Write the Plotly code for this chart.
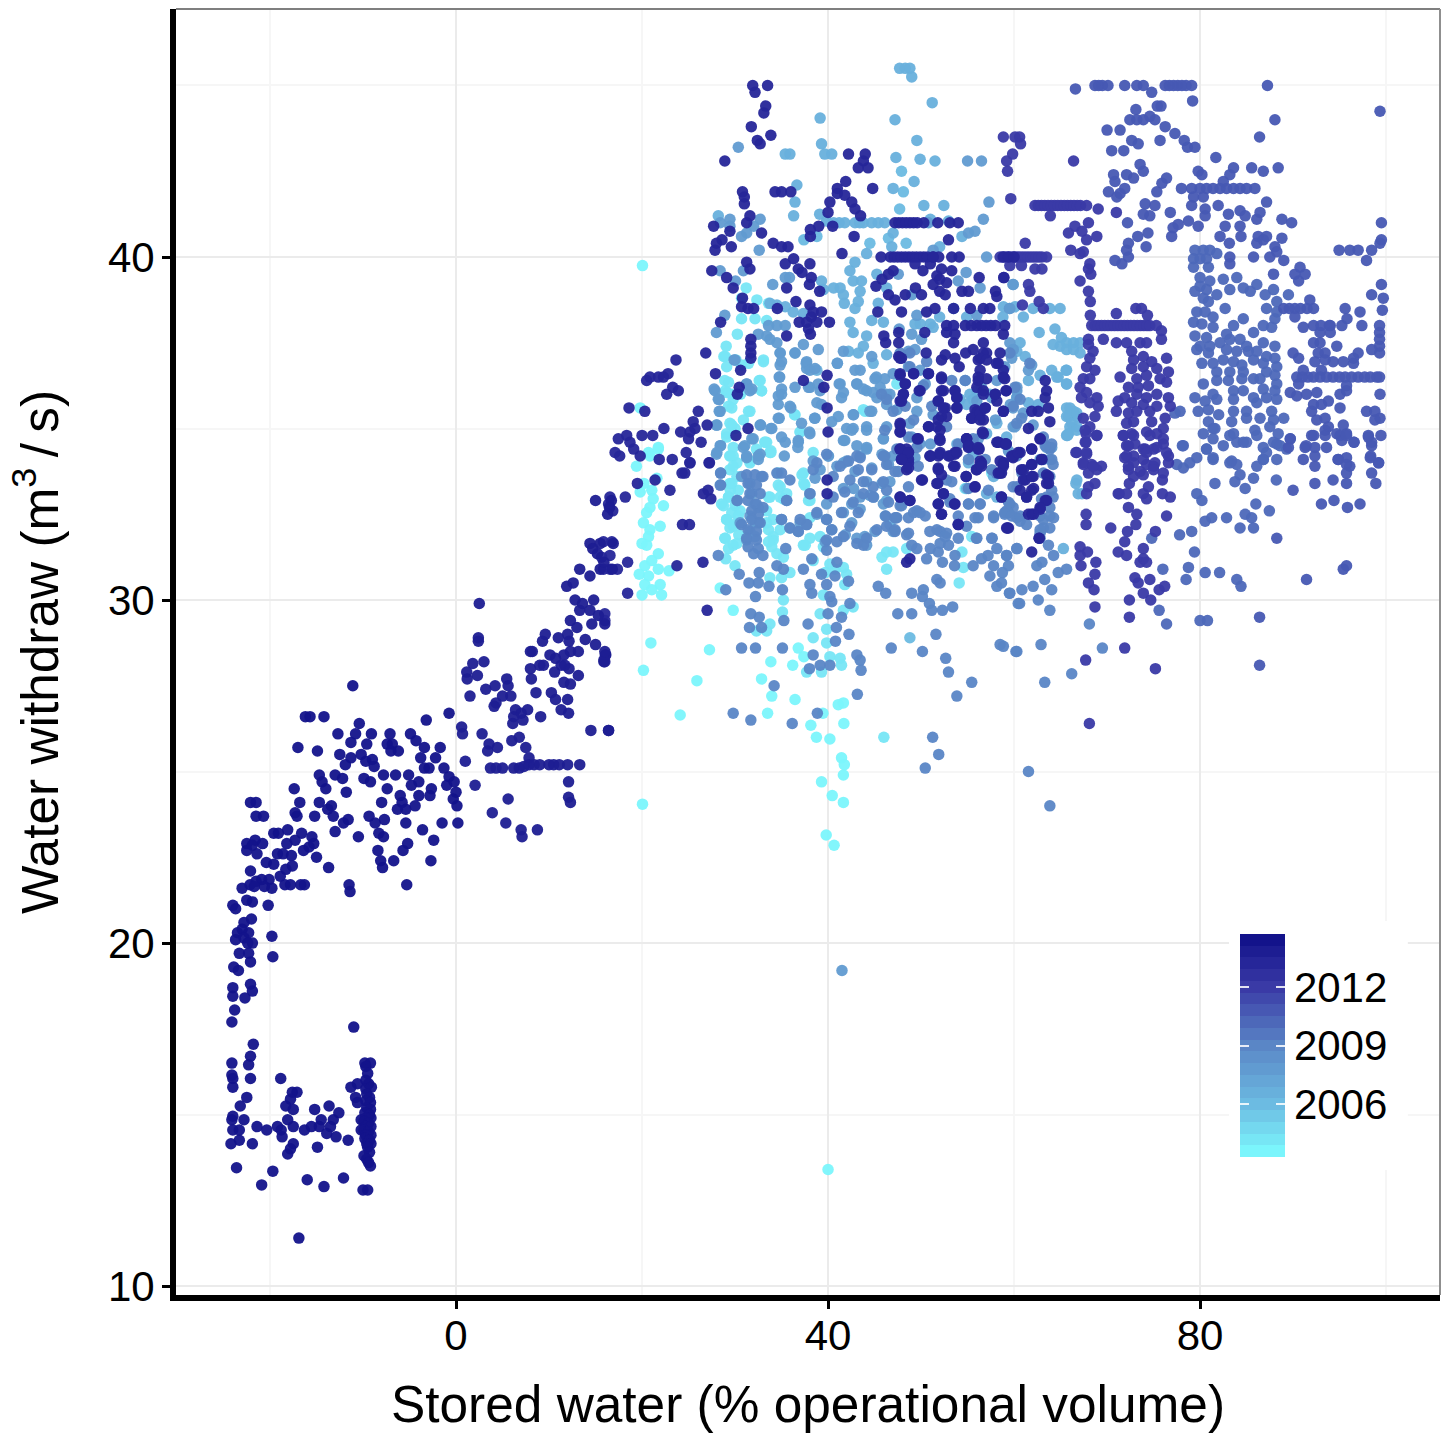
import plotly.graph_objects as go

# ---- data: (stored water %, withdrawal m3/s) by period ----
year_ticks = [2006, 2009, 2012]
x_ticks = [0, 40, 80]
y_ticks = [10, 20, 30, 40]

pts_2003 = [(20.05,39.75),(40,13.4),(20.05,24.05),(19.8,33.15),(21.05,33.2),(21.2,32.95),(20.85,32.7),(22.3,32.75),(20.5,32.55),(20.15,32.25),(21.95,32.15),(20.85,32.05),(20.7,31.85),(20,31.65),(20.5,31.6),(21.75,31.35),(20.3,31),(21.05,31.15),(21.75,30.9),(22.9,30.85),(19.7,30.75),(20.7,30.7),(20.3,30.45),(21.95,30.45),(21.05,30.3),(20,30.15),(22.1,30.15),(21.6,33.55),(20.7,34.3),(21.75,34.45),(20.95,28.75),(20.15,27.95),(27.25,28.55),(25.9,27.65),(24.1,26.65),(29.8,29.7),(28.4,30.35),(36.8,28.6),(37.4,28.35),(36.2,28.1),(33.85,28.2),(32.85,27.7),(33.95,27.2),(36.45,27.1),(33.5,26.7),(38.15,26.35),(38.75,26),(40.2,25.95),(41.7,26.4),(41.1,26.95),(41.65,27),(39.45,26.7),(41.45,25.4),(41.75,25.2),(41.65,24.9),(39.3,24.7),(40.45,24.3),(41.65,24.1),(39.8,23.15),(40.65,22.85),(19.8,35.6),(21.75,34.4),(20.85,34.2),(19.4,33.9),(20.2,33.4)]
pts_2004 = [(46,26),(54.1,30.5),(46.3,30.9),(29.45,34.2),(30.2,34),(29.45,33.8),(30.2,33.6),(29.65,33.4),(30.35,33.2),(29.3,33),(28.75,32.75),(30,32.75),(29.65,32.55),(30.55,32.6),(29.1,32.35),(30.2,32.25),(29.45,32.1),(28.9,31.8),(29.8,31.6),(29.3,31.5),(33.75,33),(33.4,32.6),(34.1,32.35),(33.6,32.05),(34.1,31.75),(33.95,31.55),(34.85,33.3),(34.65,33.7),(35.2,32.95),(34.5,31.35),(35.2,31.25),(35.9,30.8),(35,30.65),(33.75,30.65),(35.2,30),(35.1,29.65),(33.75,29.3),(33.4,29.1),(32.3,29.1),(39.15,29.6),(39.85,29.15),(38.4,28.9),(39.85,28.75),(40.2,28.35),(41.3,28.3),(41.45,28.1),(39.3,27.9),(37.7,27.9),(40.75,30.9),(41.65,30.95),(40.2,31.05),(39.7,30.8),(42,30.75),(41.8,30.45),(39.5,30.15),(41.65,29.7),(42.7,29.8),(38.4,31.15),(37.35,33.7),(37.5,33.35),(38.05,32.9),(38.05,31.8),(37.35,31.6),(39.15,31.85),(39.5,31.55),(45.8,31.25),(46.3,31.4),(47,31.4),(54.4,31.4),(55.45,31.85),(48.45,31.5),(54.55,30.95),(54.75,33.25),(57.6,33.7),(32.3,34.4),(33.75,34.3),(31.6,34.05),(33.4,34.6),(31.2,39.1),(30.7,38.8),(32.35,38.75),(33.6,38.65),(30.7,38.2),(32.15,38.2),(33.4,38.15),(30.25,37.75),(29.05,37.4),(28.8,37.1),(29.1,36.8),(33.05,36.95),(31.45,36.9),(28.9,36.4),(32.6,36.4),(32.85,36.1),(29.1,36.05),(29.65,35.6),(29.8,35.85),(31.45,35.5),(29.45,35.15),(29.1,34.85),(33.2,34.6),(33.85,34.3),(29.8,34.2),(36.4,35.4),(44,35.5),(37,34.9),(38.4,34.3),(30,35),(30.6,36),(30.1,37),(29.5,33.2),(30.4,31.9),(30,31),(29,31.2)]
pts_2004b = [(28.95,37.1),(29.3,36.35),(28.95,36.1),(29.65,36),(29.3,35.65),(29.65,35.1),(29.1,34.75),(29.8,34.45),(29.45,34.2),(29.8,33.9),(29.45,33.4),(29.3,33),(28.55,32.8),(29.1,32.35),(29.8,32.15),(30.35,32.45),(28.95,31.8),(30.2,31.65),(33.05,37),(32.7,36.4),(32.85,36.1),(31.6,35.5),(30.9,35.25),(33.25,34.6),(33.85,34.35),(31.6,34),(34.65,33.35),(35.55,33.1),(34.85,33),(33.6,33),(33.4,32.25),(34.1,31.85),(34.85,32.05),(33.6,31.7),(36.45,35.4),(37,34.9),(37.2,33.65),(37.4,33.4),(37.9,32.9),(38.05,32.4),(37.55,31.6),(43.8,35.55),(47.4,36.3),(30.7,36.85)]
pts_2006 = [(47.9,42.5),(48.1,41.9),(47.7,41.4),(48.4,40.4),(37.4,40.5),(38.8,40.6),(44.5,40.4),(46.5,40.55),(48.8,28.9)]
pts_2007 = [(47.7,45.5),(48.3,45.5),(48.8,45.5),(49,45.25),(51.2,44.5),(47.2,44),(39.15,44.05),(49.55,43.4),(39.3,43.3),(39.65,43),(40.4,43),(35.4,43),(35.9,43),(47.3,42.9),(49.9,42.85),(51.5,42.8),(49.25,42.2),(47,42),(36.65,42.1),(36.45,41.6),(36.3,41.2),(50.3,41.5),(52.45,41.5),(51,41.1),(39.1,41.25),(39.85,41.05),(40.6,41),(41.2,41),(41.8,41),(42.9,41),(43.4,41),(43.8,41),(44.7,41),(45.4,41),(46.1,41),(47,40.7),(46.85,40.3),(44.15,40.1),(52.95,41.05),(54.4,40.6),(52,40.3),(28.2,41.2),(42.9,39.85),(42.35,39.6),(42.7,39.3),(43.6,39.3),(41.3,39.1),(40.6,39.1),(39.3,39.3),(39.5,39.05),(41.65,38.9),(43.45,39),(43.25,38.7),(42.9,38.5),(41.75,38.65),(45.95,38.1),(44.7,38.15),(45.4,38.65),(45.25,39.5),(46.3,39.1),(33.75,38.65),(34.5,38.6),(35.4,38.55),(36.25,38.4),(37.35,38.35),(42.35,38.1),(42.7,37.8),(44.15,37.7),(43.8,37.4),(42.2,37.25),(43.25,37.2),(44.85,36.9),(41,36.9),(46.3,37.15),(58.8,38.25),(51,38.05),(52,38.25),(49.9,38.05),(49.35,38.05),(51.3,37.95),(54.9,38.25),(38.8,36.7),(64.95,38.5),(63.85,38.5),(62.05,38.5),(60.1,38.55),(58.85,38.55),(61,38.25),(62.7,37.8),(64.4,37.9),(65.1,37.65),(65.65,37.5),(66.4,37.5),(67.1,37.5),(64.95,37.4),(65.65,37.3),(66.4,37.3),(67.1,37.2),(64.2,37.45),(60.65,37.5),(60.3,37.25),(61.2,37.1),(64.05,36.7),(65.6,36.7),(64.75,36.5),(65.65,36.3),(62.8,36.55),(61.55,36.4),(60.3,35.9),(65.65,35.6),(66.4,35.5),(65.85,35.35),(66.75,35.35),(66,35.05),(66.75,35.05),(65.65,34.8),(62.6,35.7),(61.55,35.75),(66.65,33.4),(67.3,33.1),(65.3,31.5),(65.75,34.8)]
pts_2007b = [(55.25,36),(54.9,35.7),(54.2,35.85),(55.6,35.85),(56,36.1),(57.4,36),(53.85,34.55),(55.6,34.25),(55.1,34),(57.05,34.85),(58.15,35.15),(59.2,34.75),(54.9,33.25),(57.8,33.6),(57.05,33.1),(58.15,33),(46.3,32.9),(46.65,32.2),(65.65,36.7),(64.6,36.5),(65.65,36.3),(66,35.6),(65.65,35.35),(66.2,35.15),(66.75,35.45),(65.85,34.85),(66.75,34.95),(66.75,33.5),(66.9,33.1)]
pts_2008 = [(41.5,19.2),(30.35,43.2),(28,37.8),(27.85,36.1),(28.2,35.85),(28.3,35.5),(28,35.1),(29.9,37),(31.6,36.1),(31.25,36.3),(34.8,36.5),(35,36),(34.65,35.7),(36,35.6),(34.75,35.3),(33.95,35),(32.7,35.1),(31.05,34.5),(31.8,34.7),(31.25,34.15),(32.5,34.2),(28,34.25),(28.4,34.5),(36.8,34.65),(37.15,35.15),(38.05,34.85),(38.55,35.3),(41.1,35.35),(40.4,35.2),(42.7,35.4),(44.15,35.05),(44.7,35.5),(46.3,35.05),(41.8,34.65),(42.7,35),(43.1,34.5),(44.15,34.4),(45.95,34.7),(41.65,34),(40,34.2),(39.15,36.1),(38.05,36.2),(41.45,35.9),(41.2,36.3),(43.1,36.3),(44.15,36.1),(45.05,36.45),(46.1,36.45),(45.25,35.9),(46.3,35.7),(46.65,36),(47.4,35.55),(49.55,35.5),(48.8,35.15),(49,34.75),(49.9,34.55),(49.35,34.15),(51,34.55),(51.3,35.4),(50.45,36.3),(49.55,35.9),(49.9,36.7),(48.65,36.8),(49.35,37.3),(54.75,36.4),(59.9,37.3),(59.75,37.05),(59,36.8),(60.3,36.1),(58.15,36.4),(56.5,36.2),(56,35.8),(57.6,35.9),(59.6,35.7),(59.9,35.05),(58,35.25),(56.15,34.7),(55.25,34.55),(59.4,34.35),(33.75,37.6),(34.5,37.5),(34.85,37.2),(35,36.95),(36.45,37.2),(37.7,36.95),(37.7,36.75),(38.95,37.3),(37.35,37.45),(33.4,37.7),(32.5,37.75),(34.5,38),(35.4,38),(33.6,38),(28.9,38.3),(35.85,39.4),(35.4,39.4),(34.05,39.2),(30.9,39.6),(28.4,39.6),(30.05,39.3),(49,38.9),(47.55,39.5),(49.55,38.3),(47.65,37.9),(49,37.75),(50.05,37.6),(48.65,37.25),(55.1,40.7),(55.8,40.75),(57.05,40),(59.9,39.2),(56.35,39.1),(54.85,39.55),(54,39.3),(59.5,38.5),(56,38.3),(53.5,38.5),(51.3,40.2),(50.8,41),(56.7,41.1),(57.3,41.6),(55,42.8),(56.5,42.8),(32.6,40.2),(28.4,41),(29.45,41.1),(29.45,40.9),(32.7,41.1),(32,40.9),(31.25,40.7),(30.7,40.6),(59.9,37.3),(59.55,37.5),(61.9,36.85),(61.55,36.7),(60.3,36.2),(60.3,35.9),(59.9,35.6),(61,35.45),(60.1,35.05),(62.05,35.1),(63.5,34.45),(64.05,34.45),(62.8,34.1),(63.85,34.1),(59.55,38.5),(59.9,39.2)]
pts_2008b = [(27.75,36.15),(28.3,35.85),(28.4,35.5),(28.05,35.1),(28.45,34.5),(28.05,34.3),(28.45,33.7),(28.4,33.35),(30,37),(31.25,36.3),(31.8,36.15),(34.85,36.85),(34.75,36.5),(35,36.15),(34.65,35.95),(35.9,35.65),(34.65,35.3),(33.85,35),(32.75,35.1),(31.95,34.7),(30.9,34.45),(31.25,34.2),(32.7,34.25),(32.5,34.1),(35,34.75),(35.4,34.6),(36.8,34.6),(36.75,34.45),(35.3,34.2),(38,34.9),(38.6,35.3),(39.3,35.7),(38.8,35.75),(37.65,36.9),(38.05,36.7),(38.6,36.75),(36.45,37.2),(34.85,37.2),(36.45,36.2),(37.9,36.2),(38.95,36.3),(41.65,36.05),(41.3,36.3),(41,36.9),(42.9,36.7),(43.1,36.3),(43.8,36.15),(44.85,36.05),(44.5,35.5),(42.75,35.4),(42,35),(41.65,34.65),(42.55,34.95),(44.15,34.95),(45.95,34.7),(44.15,34.45),(45.8,34.25),(47,34.2),(46.5,33.95),(44.7,33.85),(43.45,34.2),(42,34.05),(42.9,33.75),(44.15,33.45),(45.8,33.4),(46.65,33.45),(42.75,33.25),(41.65,33.25),(43.45,33),(44.5,33.05),(42.55,32.8),(44.9,33),(43.45,32.65),(45.95,32.8),(46.15,32.45),(42.55,32.25),(41.65,32.55),(41.85,31.9),(43.1,31.8),(43.95,31.85),(45.05,32),(47,32),(40.05,34.2),(40.95,33.9),(38.4,34.05),(39.15,33.8),(38.6,33.55),(39.85,32.8),(38.8,32.5),(37,32.25),(37.7,32.2),(36.8,32),(35.9,32.1),(39.85,32.35),(40.4,32.05),(39.7,31.7),(38.05,33.1),(35.55,32.9),(35,32.35),(32.85,33.6),(30.7,33.6),(30.2,32.9),(30.55,32.25),(31.6,33.4),(31.8,33.1),(32.15,32.8),(32.5,32.7),(31.6,32.45),(32.15,32.25),(31.6,32),(32.5,32.25),(32.15,31.85),(31.25,31.75),(44.15,31.6),(45.6,36.2),(46.3,36),(47,36.6),(45.2,36.5),(43.45,36.7),(44.7,37.1),(41.65,37.25)]
pts_2009 = [(31.25,33.65),(32.15,33.65),(33,33.6),(31.4,33.4),(32.3,33.35),(31.6,33.1),(32.7,33.1),(31.4,32.9),(32.3,32.8),(33,32.7),(31.8,32.6),(32.5,32.5),(30.7,32.2),(31.8,32.35),(32.7,32.25),(31.4,32.05),(32.3,32),(31.25,31.8),(32.3,31.75),(31.4,31.55),(32.5,31.5),(32,31.35),(33,31.3),(30.25,32.9),(28.45,33.7),(28.45,33.35),(28.2,31.3),(30.45,30.75),(32.6,30.8),(31.5,30.5),(32.5,30.5),(33.65,30.4),(32.2,30.1),(29,30.3),(31.7,29.6),(32.6,29.5),(32.85,29.2),(31.55,29.2),(32.2,28.6),(30.7,28.6),(35.1,28.6),(35.25,29.4),(37.85,29.3),(40.9,29.2),(42.25,29),(40,29.6),(41.45,29.5),(42.35,29.9),(40.8,28.8),(38.4,28.4),(39.15,28.1),(38,28),(40.2,28.1),(43.1,28.4),(43.45,28.25),(43.55,27.95),(43.15,27.25),(34.2,27.5),(29.8,26.7),(31.7,26.5),(36.15,26.4),(38.85,26.7),(35,32.35),(35.9,32.1),(36.8,32),(37.7,32.2),(37,32.35),(38.8,32.55),(39.85,32.35),(40.4,32.05),(39.85,31.75),(39.85,31.45),(40.95,31.1),(40.75,30.7),(39.3,30.75),(39.85,30.45),(40.2,30.1),(40.4,29.95),(42.2,30.55),(38.25,30.2),(38.05,30.45),(35.1,30.3),(34.5,31),(35.2,30.9),(37.35,30.9),(38.25,31.2),(35.45,31.5),(35.55,32.9),(35,33.7),(35.9,33.5),(34.5,33.7),(38.8,34),(38.4,33.8),(38.05,33.1),(39.85,34.25),(41.3,33.9),(40.55,33.6),(42.2,34.05),(43.25,33.8),(43.1,34.2),(42.35,33.5),(43.8,33.45),(41.8,33.15),(42.7,32.85),(43.8,33.1),(44.85,33),(40.55,33),(41.45,32.55),(43.25,32.55),(42.35,32.15),(41.65,31.85),(40.95,31.7),(44.15,31.8),(43.8,31.6),(43.1,31.65),(44.7,33.8),(45.25,32.05),(46.3,32.15),(47.2,32.05),(46.2,32.45),(47.2,32.4),(48.45,31.9),(49,31.6),(49.55,31.5),(51,31.5),(51.85,31.4),(50.6,31.2),(52.3,31.1),(53.65,31.3),(53.6,31),(55.6,31),(56,31.8),(57.65,31.8),(58.15,31.5),(57.2,31.3),(56.5,31.2),(57.8,31),(59.4,31),(59.2,31.3),(58.75,30.8),(57.4,30.7),(58.65,30.5),(58.15,30.4),(59.5,30.2),(60.6,29.9),(60.3,31.5),(51.7,30.6),(52.05,30.5),(50.25,30.3),(49,30.2),(50.15,30.1),(50.9,29.9),(51.15,29.7),(52.3,29.7),(53.4,29.8),(46.2,30.2),(45.4,30.4),(47.5,29.6),(49,29.6),(46.8,28.6),(50.15,28.5),(51.6,29),(52.65,28.3),(52.95,27.9),(55.45,27.6),(53.85,27.2),(51.25,26),(51.9,25.5),(50.45,25.1),(58.5,28.7),(60.2,28.5),(51.7,32.05),(52.75,31.95),(54,31.8),(54.9,32.15),(52.95,31.6),(52.05,31.65),(54,32.45),(55.1,32.8),(56.35,32.8),(56.15,32.4),(57.8,32.4),(53.1,32.95),(50.45,32.45),(48.65,32.4),(47.3,32.4),(47.9,32.75),(49.55,32.6),(59,32.55),(59.9,32.7),(60.3,33.3),(55.1,33.25),(57.25,33.2),(52.75,33.5),(46.3,33.95),(45.95,34.2),(47.2,33.75),(45.95,33.45),(44.85,33.3),(43.45,34.15),(63.85,34.45),(63.15,34.75),(64.05,34.1),(63.15,33.7),(64.05,33.2),(62.95,32.95),(63.85,32.7),(64.25,32.4),(63.15,32.35),(63.85,32.1),(62.8,31.95),(59.55,32.8),(59.4,32.55),(60.3,32.4),(60.65,32.3),(59.2,32.6),(60.3,31.5),(59.2,31.3),(63.7,31.6),(64.25,31.3),(62.45,31),(63,31.1),(64.75,30.8),(65.65,30.9),(63.3,30.6),(64.05,30.3),(62.05,30.4),(60.85,30.3),(59.55,30.2),(60.45,29.9),(62.6,30),(63.85,29.7),(58.85,28.65),(60.3,28.5),(62.9,28.7),(63.3,27.6),(66.2,27.85),(69.5,28.6),(68.1,29.3),(61.55,25),(63.85,24)]
pts_2009b = [(48.8,36.8),(45.75,36),(46.3,35.85),(47,35.5),(49.2,35.25),(46.1,34.95),(48.65,34.75),(47.4,34.4),(49.55,34.45),(46.1,34.2),(47.55,33.75),(49.7,33.9),(48.65,33.3),(46.3,33.2),(47.75,32.75),(49.2,32.55),(47.4,32.4),(49.9,32.55),(46.5,32.85),(48.65,31.95),(47.2,32),(50.95,32),(52.05,32),(53.1,32.85),(53.3,33.45),(55.1,32.8),(56.35,32.8),(55.8,32.4),(57.8,32.45),(59.4,32.85),(59,32.5),(59.75,32.45),(60.65,32.45),(61.35,32.2),(62.8,32.45),(63.15,32.1),(63.85,32.45),(62.8,32.05),(63.5,33),(64.2,33),(63.85,34.4),(63.15,34.1),(64.2,33.95),(63.85,33.6),(64.05,34.55),(63.35,34.5),(60.1,36.2),(60.65,35.85),(59.9,35.65),(60.3,35.15),(60.8,35.3),(59.55,37.2),(61.7,36.9),(48.8,37.2),(50.6,36.95),(54.75,36.4),(47.75,37.2),(48.3,35.65),(50.25,36.25),(51.15,35.65),(53.3,36.4),(52.75,35.05),(54,34.55),(55.1,34.1),(56.9,34.1),(57.6,33.8),(58.1,33.7),(55.6,34.7),(60.3,34.2),(60.85,33.7),(59.9,33.3),(55.95,31.8),(57.6,31.8),(52.6,31.85),(62.8,31.8)]
pts_2010 = [(79.45,40.2),(80.35,40.2),(81.05,40.2),(81.8,40.1),(79.3,39.95),(80,39.95),(80.7,39.95),(79.3,39.7),(80.9,39.7),(80,39.4),(81.05,39.3),(82.5,39.35),(83.95,39.4),(80,39.15),(80.7,39.05),(79.45,39),(81.8,38.9),(83.2,39.05),(84.65,39.1),(86.1,39.2),(85.4,39),(87.9,39.05),(87,38.9),(88.25,38.7),(89.5,38.9),(80.35,38.8),(80.9,38.7),(79.65,38.4),(80.55,38.4),(81.4,38.25),(82.7,38.5),(84.65,38.2),(87.15,38.5),(88.25,38.4),(79.3,38.1),(80.2,38.05),(81.4,37.95),(83.6,38),(82.85,37.75),(85.75,37.8),(86.8,38),(88.05,38.2),(87.7,37.95),(79.45,37.7),(80.7,37.65),(80,37.4),(81.05,37.4),(82.15,37.5),(83.2,37.6),(84.3,37.6),(85,37.4),(86.8,37.5),(88.05,37.4),(79.65,37.3),(80.9,37.2),(82.85,37.3),(83.95,37.25),(85.2,37.25),(86.1,37.25),(87.15,37.1),(88.05,37.05),(80.2,36.9),(81.4,36.9),(82.5,37),(83.6,36.95),(84.5,36.85),(85.75,37),(86.8,36.9),(88.25,36.8),(81.8,36.65),(83.2,36.65),(84.65,36.65),(85.75,36.45),(87.15,36.65),(88.05,36.55),(80.35,36.3),(81.8,36.4),(83.05,36.4),(84.5,36.45),(86.45,36.45),(88.25,36.3),(81.4,36),(83.6,36.1),(84.65,36.1),(86.8,36.15),(88.05,36.1),(79.45,35.9),(80.55,35.8),(81.8,35.85),(83.6,35.85),(85.75,35.9),(87.15,35.9),(88.25,35.85),(79.8,35.5),(80.9,35.55),(82,35.4),(83.6,35.5),(85,35.5),(86.1,35.75),(87.7,35.5),(77.85,35.5),(77.3,35.45),(80.9,35.2),(81.4,35),(83.4,35.2),(85,35.3),(86.45,35.3),(87.9,35.25),(89,35.3),(80.35,34.85),(81.6,35),(83.6,34.85),(85.9,34.95),(87.5,35.05),(88.4,34.85),(89.7,34.7),(80.7,34.4),(82.5,34.5),(83.95,34.6),(85,34.6),(86.8,34.45),(88.25,34.55),(89.3,34.4),(81.4,34.1),(83.4,34.05),(86.8,34.1),(88.25,34.1),(78.1,34.5),(81.4,34.7),(80.7,34.4),(81.4,34.15),(83.2,34.8),(84.65,34.6),(86.1,34.8),(87.9,34.6),(87.15,34.3),(88.6,34.5),(86.8,34.1),(83.2,34),(83.95,33.95),(86.1,33.9),(84.3,33.65),(85.75,33.55),(83.75,33.45),(84.85,33.25),(88.2,33.5),(81.6,33.4),(79.65,33.1),(80.2,32.9),(77.5,33.95),(78.2,33.85),(78.9,34),(79.65,34.15),(86,32.8),(87.45,32.6),(84.85,32.5),(85.55,32.4),(84.3,32.1),(85.75,32.1),(82.85,32.4),(81.25,32.4),(80.55,32.3),(79.1,32),(77.8,31.9),(79.4,31.4),(78.75,30.95),(80.55,30.8),(82.1,30.8),(83.95,30.6),(84.4,30.4),(78.5,30.6),(76,30.9),(75.6,29.7),(76.4,29.3),(80,29.4),(80.8,29.4),(74.8,31.8),(78.2,34.5)]
pts_2011 = [(66.6,44.9),(68.7,45),(69.1,45),(69.5,45),(70.1,45),(71.9,45),(73.2,45),(73.9,45),(74.8,44.8),(76.25,45),(76.7,45),(77.15,45),(77.6,45),(78.05,45),(78.5,45),(79.1,45),(79.2,44.55),(87.25,45),(99.35,44.25),(88.05,44),(86.4,43.5),(81.7,42.9),(73.1,44.3),(75.8,44.4),(75.4,44.4),(72.45,44),(73.2,44),(73.9,44),(74.6,44.1),(75.15,44),(76.25,43.8),(77.3,43.6),(78.3,43.4),(78.65,43.2),(79.45,43.2),(70,43.7),(71.4,43.7),(72.65,43.4),(73.35,43.3),(75.7,43.4),(70.5,43.1),(71.8,43.1),(73.55,42.7),(73.9,42.5),(72.85,42.3),(72.1,42.4),(70.7,42.4),(70.85,42.2),(71.9,42),(71.4,41.85),(70.15,41.9),(71.05,41.75),(79.8,42.5),(80.2,42.4),(76.4,42.3),(75.9,42.15),(75.35,41.9),(78,42),(79.1,42),(80,42),(80.7,42),(81.4,42),(82.15,42),(82.85,42),(83.6,42),(84.3,42),(85,42),(85.9,42),(83.6,42.6),(83.2,42.4),(82.5,42.2),(85.55,42.6),(86.8,42.5),(88.4,42.6),(74.1,41.55),(75.15,41.5),(73.9,41.25),(74.6,41.2),(76.8,41.3),(79.1,41.5),(79.3,41.75),(80.35,41.75),(81.95,41.5),(80.55,41.4),(78.75,41.05),(79.8,40.9),(80.55,41.2),(83.05,41.25),(84.3,41.35),(84.85,41.2),(86.1,41.1),(86.45,41.3),(87.15,41.6),(88.8,41.1),(89.85,41),(72.2,41),(74.4,40.7),(73.3,40.6),(72.3,40.4),(72.1,40.2),(74.2,40.3),(77.1,40.85),(76.95,40.6),(77.65,40.95),(70.85,39.9),(71.6,39.8),(72.3,40),(82.7,40.9),(82.15,40.6),(84.3,40.9),(84.4,40.6),(83.15,40.4),(86.25,40.6),(87.15,40.6),(86.1,40.4),(86.8,40.5),(88.8,40.55),(88.05,40.3),(88.25,40.15),(87.5,40),(89,39.9),(85.75,40),(83.2,40),(83.2,39.8),(99.5,41),(99.5,40.5),(99.35,40.4),(98.45,40.2),(94.95,40.2),(96.1,40.2),(97,40.2),(97.9,39.9),(90.75,39.7),(91.3,39.5),(90.2,39.5),(90.6,39.3),(87.9,39.5),(99.5,39.2),(99.7,38.8),(98.45,38.9),(99.6,38.45),(95.6,38.5),(95.8,38.2),(97.2,38.4),(97.4,38),(95.25,38),(99.3,38),(99.3,37.8),(99.3,37.6),(99.3,37.4),(99.3,37.2),(98.45,37.3),(97,37.2),(96.5,37.05),(89,38.5),(89.6,38.5),(90.2,38.5),(90.8,38.5),(91.5,38.5),(92.2,38.5),(91.8,38.75),(90.2,38.25),(91.1,37.95),(92.2,38),(93,38),(93.9,38),(94,38),(92.9,37.8),(92.9,37.5),(92.2,37.5),(94,37.8),(93.45,37.2),(92.7,37.2),(93.45,37),(92.35,36.95),(93.05,36.7),(94.7,37.4),(90,37.2),(90.6,37.05),(94.3,36.95),(95.4,36.95),(96.5,36.9),(90.4,36.5),(91,36.5),(91.6,36.5),(92.2,36.5),(92.9,36.5),(93.6,36.5),(94.3,36.5),(95,36.5),(95.6,36.5),(96.3,36.5),(97,36.5),(97.7,36.5),(98.3,36.5),(99,36.5),(99.3,36.5),(91.1,36.7),(90.6,36.3),(89.7,36.05),(90.4,35.95),(91.45,36),(92.55,36.05),(93.8,35.8),(92.2,35.7),(92,35.5),(93.05,35.7),(95.75,36.25),(95.05,36),(95.75,36.1),(95.05,35.6),(97.9,35.5),(98.8,35.5),(99.35,36),(99.35,35.3),(98.8,35.25),(92.55,35.25),(93.45,35.3),(93.8,35.05),(93.45,34.95),(94.7,34.85),(95.4,35.1),(95.75,34.85),(92.2,34.8),(91.3,34.45),(92.35,34.45),(93.6,34.45),(95.25,34.65),(96.55,34.6),(98.1,34.75),(99.45,34.8),(98.45,34.5),(91.1,34.1),(92.35,33.9),(94.85,34.1),(95.75,34.15),(96.1,33.9),(98.3,34.15),(99.2,34),(98.1,34.8),(98.45,34.6),(96.55,34.6),(95.05,34.8),(95.75,34.8),(92,34.8),(93.45,34.8),(91.4,34.5),(92.35,34.2),(94.85,34.1),(95.75,33.95),(95.75,33.7),(95.75,33.4),(94.3,33.5),(92.35,33.4),(90,33.2),(93.05,32.8),(94.4,32.9),(95.85,32.7),(97.2,32.8),(98.35,34.2),(99.2,34),(98.45,33.7),(98.9,33.4),(88.25,31.8),(95.75,31),(95.4,30.9),(91.45,30.6),(86.4,29.5),(86.4,28.1),(89.5,34.45),(89.7,34.7)]
pts_2012 = [(68.35,38),(68.7,38),(69.05,38),(69.4,38),(69.75,38),(70.1,38),(70.45,38),(70.8,38),(71.15,38),(71.5,38),(71.85,38),(72.2,38),(72.55,38),(72.9,38),(73.25,38),(73.6,38),(73.95,38),(74.3,38),(74.6,38),(71,38.35),(73.1,38.5),(73.7,38.5),(74.35,38.3),(75.3,38),(75.85,37.85),(75.85,37.6),(69.6,37.6),(68,37.6),(71,37.5),(72.1,37.5),(72.65,37.25),(73.55,37.5),(74.25,37.5),(72.85,37),(73.9,37.1),(74.8,36.95),(76.4,37.05),(72.65,36.75),(73.9,36.8),(75.35,36.75),(76.6,36.65),(73.2,36.45),(74.25,36.55),(75.7,36.45),(71.4,36.5),(72.3,36.2),(73.35,36.2),(74.45,36.25),(76.4,36.35),(71.9,35.9),(73.2,36),(74.25,35.9),(75.35,36),(76.6,35.9),(71.2,35.8),(72.65,35.75),(73.9,35.7),(75.35,35.65),(76.8,35.65),(71,35.5),(72.3,35.45),(73.2,35.5),(74.6,35.5),(76.25,35.3),(72.1,35.15),(72.85,35.2),(74.8,35.2),(76.05,35),(71.75,34.8),(72.65,34.85),(74.25,34.9),(75.35,34.85),(72.1,34.5),(73,34.55),(74.1,34.4),(76.05,34.55),(71.9,34.15),(72.85,34.2),(75,34.4),(76.6,34.2),(72.3,33.9),(75,33.9),(73.9,34.1),(71.75,34.8),(72.85,34.8),(74.6,34.8),(76.05,34.7),(72.3,34.5),(73.9,34.4),(75.35,34.45),(76.4,34.3),(72.1,34.2),(74.25,34.3),(76.6,34),(72.85,34),(74.25,33.95),(75.15,34),(72.3,33.8),(73.55,33.75),(75,33.8),(76.05,33.7),(72.85,33.6),(73.9,33.65),(72.4,33.4),(75.95,33.5),(74.45,33.3),(71.2,33.1),(72.1,33.1),(73.9,33.1),(75.95,33.1),(76.8,33),(74.25,32.95),(72.3,32.7),(73.2,32.5),(67.75,32.5),(76.4,32.45),(67.75,32.2),(70.4,32.1),(73.1,32.2),(72.2,32),(75.2,32),(71.9,31.7),(71.2,31.4),(72.1,31.3),(73.9,31.5),(73.9,31.2),(73.55,31.1),(74.25,31.1),(73,30.65),(73.35,30.5),(74.6,30.6),(73.9,30.2),(75.6,30.3),(76.2,30.4),(72.4,30),(74.7,30),(72.4,29.5),(71.9,28.6),(67.7,28.25),(75.2,28),(68.1,26.4),(68.7,29.8),(68,30.5),(68.6,30.3),(67.2,31),(68.8,31.1),(68.7,30.75),(67.1,31.55),(67.9,31.4),(67.1,31.3),(67.75,34.6),(66.65,34.3),(67.8,34.3),(67.45,34),(68.35,33.95),(69.4,33.9),(68,33.7),(68.9,33.8),(68.7,33.4),(68,33.3),(67.8,33.1),(71.3,33.1),(68.9,34.8),(67.75,34.85),(68,37.45),(68.5,37.25),(68.15,37.05),(67.8,36.8),(68.7,36.7),(67.45,36.45),(68.15,36.45),(67.1,36.2),(67.8,36.05),(68.9,35.9),(67.25,35.9),(68.15,35.75),(69.05,35.65),(68.7,35.35),(67.45,35.3),(68.15,35.05),(67.65,34.95),(68.9,34.8),(67.65,34.6),(66.75,34.3),(67.8,34.25),(67.45,33.95),(68.5,33.9),(58.85,43.5),(60.1,43.5),(60.6,43.5),(60.7,43.3),(59.85,43),(59.2,42.8),(59.3,42.5),(66.4,42.8),(59.65,41.7),(62.25,41.5),(62.6,41.5),(62.95,41.5),(63.3,41.5),(63.65,41.5),(64,41.5),(64.35,41.5),(64.7,41.5),(65.05,41.5),(65.4,41.5),(65.75,41.5),(66.1,41.5),(66.45,41.5),(66.8,41.5),(67.15,41.5),(67.8,41.5),(63.9,41.2),(69.05,41.4),(71,41.3),(66.55,40.9),(65.85,40.7),(68,41),(67.3,40.75),(67.8,40.5),(68.9,40.6),(66.1,40.2),(67.1,40.1),(67.45,40.15),(58.5,40),(58.8,40),(59.1,40),(59.4,40),(59.7,40),(60,40),(60.3,40),(60.6,40),(60.9,40),(61.2,40),(61.5,40),(61.8,40),(62.1,40),(62.4,40),(62.7,40),(63,40),(63.5,40),(59.55,39.75),(60.8,39.75),(62.25,39.65),(63,39.65),(61.2,40.4),(68.15,39.8),(68,39.65),(68.25,39.5),(67.1,39.3),(68,39),(68.2,38.7),(68.2,38.3),(58.9,39.4),(61.55,39.2),(61.7,39),(62.7,38.7),(63.15,38.5),(60.9,38.6)]
pts_2013 = [(31.9,45),(33.5,45),(32.15,44.8),(33.3,44.4),(33.1,44.2),(31.75,43.8),(33.85,43.55),(32.4,43.4),(32.7,43.3),(28.9,42.8),(42.2,43),(44,43),(43.8,42.8),(43.25,42.6),(44.3,42.6),(41.9,42.2),(41,42),(44.8,42),(41,41.85),(41.8,41.8),(40.2,41.6),(42.55,41.6),(42.9,41.4),(40,41.3),(43.5,41.2),(30.8,41.9),(31,41.75),(31,41.55),(34.3,41.9),(35,41.9),(36,41.9),(31.6,41.2),(31.25,41),(27.7,40.9),(29.45,40.75),(32.85,40.7),(28.6,40.5),(28,40.4),(29.6,40.3),(27.85,40.2),(34.1,40.4),(35,40.3),(35.7,40.3),(38.1,40.8),(39,40.9),(38.1,40.6),(40.5,40.9),(42.8,40.6),(41.5,40.1),(47.2,41),(47.6,41),(48,41),(48.4,41),(48.8,41),(49.2,41),(49.6,41),(50.3,41),(51.8,41),(53.1,41),(54,41),(52.95,40.5),(46.7,40),(47.1,40),(47.5,40),(47.9,40),(48.3,40),(48.7,40),(49.1,40),(49.5,40),(49.9,40),(50.3,40),(50.7,40),(51.3,40),(51.9,40),(53.3,40),(54.1,40),(58.85,40),(59.4,40),(60,40),(45.7,40),(35.4,39.8),(36.3,39.95),(31.25,39.85),(31.6,39.65),(27.5,39.6),(38.05,39.8),(36.8,39.65),(37.2,39.55),(29.1,39.4),(29.8,39.1),(38.2,39.4),(38,39.2),(39.1,39),(35.55,39.1),(30.8,38.8),(30.7,38.55),(31.4,38.5),(32,38.5),(34.55,38.5),(36.55,38.7),(38.05,38.6),(39.3,38.4),(38.4,38.4),(38.2,38.25),(36.9,38.1),(37.7,38.1),(38.8,38.1),(40.15,38.1),(37.9,37.9),(38.1,37.75),(28.45,38.1),(35.55,37.7),(31.7,37.6),(31.7,37.4),(31.7,37.2),(31.7,37.05),(26.85,37.2),(23.65,37),(22.8,36.6),(22.3,36.5),(21.75,36.5),(20.85,36.5),(20.5,36.4),(23.3,36.2),(23.9,36.1),(22.65,36),(27.9,36.6),(30.6,36.7),(30.45,36.2),(30.25,36),(37.35,36.4),(39.9,36.55),(39.55,36.2),(39.9,35.6),(18.6,35.6),(20.3,35.5),(26.05,35.5),(25.5,35.2),(25.7,35),(27,35.1),(25.15,34.9),(24.15,34.9),(25,34.7),(26.35,34.6),(22.35,35),(21.15,34.8),(20,34.8),(18.35,34.8),(17.45,34.7),(18.7,34.6),(17.1,34.3),(17.6,34.2),(19.1,34.4),(19.8,34.2),(21.85,34.1),(23.25,34.1),(24.75,34.3),(25.15,34),(27.25,34),(31.4,35),(30.1,34.8),(40,34.9),(47,39.6),(46.5,39.5),(45.8,39.35),(45.15,39.15),(49.35,39.8),(50.2,39.6),(51,39.8),(51.3,40),(52.2,39.65),(53.3,39.6),(51.7,39.45),(52.75,39.25),(52,39.35),(51.3,39.2),(52.6,38.9),(52,39),(56.25,39.4),(58.9,39.4),(54.4,39),(55.1,39),(58,39),(58.15,38.85),(49.4,39.1),(50.05,38.9),(48.3,38.9),(46.5,38.9),(47.2,38.75),(47.9,38.4),(45.35,38.4),(50.6,38.4),(51.5,38.5),(53.5,38.5),(55.3,38.5),(56.7,38.5),(57.4,38.5),(52.75,38),(53.5,38),(54.75,38),(55.4,38),(56,38),(56.5,38),(57,38),(57.5,38),(58,38),(59,38),(52.75,37.8),(53.65,37.75),(53.5,37.5),(56.7,37.5),(58.85,37.75),(58.5,37.2),(56.7,37.2),(55.6,37.3),(54.8,37.2),(52.6,37.15),(52.2,37),(50.4,37.8),(46,37.7),(46.2,37.5),(47.6,37.8),(47.6,37.5),(47.6,37.1),(47.9,37.05),(50.55,37.2),(47.75,36.6),(49.2,36.6),(50.8,36.6),(54.1,36.8),(48.3,36.3),(49.8,36.1),(48.1,36),(47.9,35.8),(52.2,36.45),(52.2,36.1),(53.65,36.1),(53.85,35.9),(53.85,35.6),(51.85,35.8),(52.6,35.6),(52.2,35.35),(52.75,35.35),(56.15,37),(57.05,37.2),(56.35,36.7),(56.15,36.4),(57.05,36.45),(56,36.2),(56.7,36),(58,36),(58.3,36.9),(58.85,36.7),(59,36.45),(59.15,36.1),(58.15,35.8),(58.85,35.5),(56,35.5),(56.9,35.6),(55.45,35.3),(56.7,35.25),(56.15,35.4),(47.75,35.15),(47.75,34.9),(50.8,35.05),(51.7,35.05),(52,34.7),(49.6,34.7),(54.9,34.7),(55.1,34.45),(56.25,34.4),(56.6,34.9),(58.3,34.6),(59.15,34.55),(47.75,34.4),(48.45,34.4),(48.65,34.1),(53.65,34.25),(52,34.25),(51,34.2),(56.35,33.95),(58.85,33.95),(59.9,34.15),(47.9,34.1),(48.65,34.3),(48.65,34),(48.45,33.8),(47.75,33),(48.8,32.9),(51.85,34.2),(53.65,34.3),(53.1,34.2),(53.5,33.9),(51.85,33.8),(51.8,33.4),(52.4,33.1),(51.85,32.8),(53.6,32.8),(52.2,32.5),(54,32.2),(50.15,33.5),(51,34.2),(48.45,31.1),(48.8,31.2),(54.85,33.6),(55.8,33.3),(56,33.8),(56.5,34),(56.15,34.4),(54.9,34.7),(55.1,34.5),(58.65,33),(58.3,34.6),(59.15,34.55),(59.3,32.1),(58.85,34),(58.5,33.7),(59.9,34.2),(60.65,34.3),(39.9,33.5),(39.9,33.1),(59,34.55),(59.9,34.2),(61.9,34.4),(62.8,34.7),(63,34.1),(58.85,34),(58.65,33.7),(60.8,33.8),(61.9,33.95),(61.2,33.5),(62.05,33.6),(60.65,33.2),(61.9,33.2),(61.35,33),(63.5,33.65),(63.7,33.4),(63.5,32.9),(62.8,32.65),(61.9,32.5),(59.4,32.1),(62.7,31.8),(61.9,31.4),(16.55,33),(18.2,33),(16.4,32.8),(16.85,32.6),(19.5,33.4),(21.4,33.5),(23,33.2),(27.1,33.2),(26.6,33.1),(27.4,32.95),(24.35,32.2),(25.1,32.2),(15.85,31.7),(16.75,31.7),(16.55,31.3),(15.65,31.25),(15.85,30.9),(16.55,30.9),(17.35,30.9),(18.45,31.1),(23.75,31),(26.55,31.1),(18.45,30.2),(27,29.7),(16,29.6),(16,29.4),(16.05,28.4),(16,28.2),(16.4,26.2),(27.2,34),(25.15,34),(24.6,33.7),(24.3,33.7)]
pts_2013b = [(47.75,37.05),(47.75,36.55),(48.3,36.3),(48.1,36),(47.75,35.8),(49.2,36.6),(50.8,36.6),(49.9,36.1),(52.2,36.5),(52.4,36.1),(53.65,36.1),(53.85,35.9),(53.85,35.6),(51.85,35.8),(52.4,35.6),(51.85,35.25),(50.8,35.05),(52.05,34.95),(52.05,34.65),(49.7,34.7),(47.75,35.1),(47.75,34.9),(47.75,34.4),(48.65,34.3),(48.65,33.85),(47.9,34.1),(50.95,34.2),(52.05,34.3),(52.95,34.2),(53.85,34.3),(53.65,33.9),(51.85,33.85),(52.2,33.65),(51.7,33.4),(50.05,33.5),(47.75,33),(48.8,32.9),(52.4,33.1),(51.85,32.8),(53.65,32.8),(52.2,32.5),(54,32.2),(54.9,34.7),(55.1,34.5),(56.15,34.45),(56.7,34.85),(55.8,35.55),(55.45,35.3),(56.35,35.45),(56.9,35.6),(56.35,35.25),(58.85,35.5),(58.15,34.6),(59.15,34.55),(56.35,34.05),(55.95,33.8),(56.5,33.9),(58.5,34.05),(58.85,33.9),(58.3,33.7),(54.85,33.6),(55.8,33.3),(58.65,33),(59.75,34.2),(60.45,34.3),(61.9,34.4),(62.95,34.1),(62.8,34.7),(61.55,35),(63.85,35.2),(63.7,35.6),(61.9,35.5),(62.6,35.5),(63.35,36.4),(63.5,36.1),(63.35,35.9),(59.15,36.1),(58.85,36.5),(58.1,36.9),(56.15,36.5),(56.7,36.1),(57.95,36),(56.35,37.05),(57.05,37),(61,33.8),(61.9,33.95),(61,33.5),(61.9,33.6),(63.7,33.6),(63.5,33.4),(61.35,33),(62.1,33.25),(63.35,32.9),(62.8,32.7),(62.1,32.5),(61.55,32.5),(59.2,32.1),(62.7,31.8),(53.65,37.05)]
pts_2014a = [(2.4,28.8),(1.8,28.15),(3,28.2),(1.15,27.9),(2.3,27.8),(1.2,27.7),(1.5,27.2),(3.2,27.4),(4.2,27.5),(5.45,27.7),(5.6,27.5),(5,27.2),(5.9,27.2),(4.3,27),(4.1,26.9),(6.4,26.8),(7.7,26.8),(7,26.7),(6.2,26.6),(7.2,26.5),(6.1,26.4),(6,25.9),(6.8,26),(7.5,25.7),(7.85,25.4),(3.7,25.1),(4.3,25.1),(5,25.1),(6.2,25.1),(6.8,25.1),(7.3,25.15),(7.85,25.2),(8.4,25.2),(9,25.2),(10,25.2),(10.5,25.2),(11.1,25.2),(12,25.2),(13.3,25.2),(8.2,28.5),(9.3,28.8),(8,28),(9.4,28.1),(8.1,27.7),(8.6,27.3),(10.25,27.3),(10.7,27.1),(12,27.1),(11.3,26.8),(12.1,26.7),(9.1,26.6),(14.5,26.2),(16.4,26.2),(12.1,24.7),(12.1,24.25),(12.3,24.1),(5.6,24.2),(3.9,23.8),(5.35,23.5),(7,23.3),(7.1,23.1),(8.75,23.3),(2.05,24.6),(10.7,28.3),(11.6,28.4),(11.3,28.1),(12.15,28),(13.15,27.8),(11.6,27.6),(12.3,27.55),(12.15,28.8),(13.15,28.5),(15,28.7),(16.1,28.4),(15.9,28.2),(11.9,30.4),(12.8,30),(13.3,29.7),(12.3,29.4),(14.4,29.7),(12,29),(13.9,28.85),(16,29.3),(15.3,29.55),(15.9,28.25),(16,28.5),(12.3,28.5),(11.7,28.1),(10.1,28.4),(9.6,29),(8,28.5),(9,28.1),(2.5,29.9),(2.4,28.9),(15,32.9),(16.7,32.9),(16.5,32.7),(16.3,32.5),(14.4,31.65),(15.5,31.65),(16.9,31.65),(15.2,31.35),(14.7,31.5),(15.5,30.9),(16.8,30.9),(15.9,31.1),(13.3,30.9),(12.6,30.5),(14.4,30.7),(13.6,29.9),(14.8,30),(13,29.2),(14.6,29.3),(11,28.9),(10.6,27.9),(1,25.3),(0.6,26.3),(0.7,26.1),(2.8,26.1),(3.55,25.8),(4.45,25.7),(3.4,25.6)]
pts_2014b = [(-11.1,27.5),(-16.2,26.6),(-15.7,26.6),(-14.2,26.6),(-17,25.7),(-14.9,25.6),(-12.7,26.1),(-10.4,26.4),(-10.8,26.1),(-11.3,25.85),(-9.1,26.1),(-9.6,25.8),(-12.5,25.5),(-11.3,25.4),(-11.9,25.2),(-10.2,25.5),(-9,25.35),(-9.7,25.3),(-8.8,25.15),(-7.8,24.9),(-7.1,26.1),(-7.4,25.8),(-6.85,25.8),(-7,25.6),(-6.2,25.6),(-4.9,26.1),(-4.3,25.9),(-3.4,25.7),(-3.2,26.5),(-0.75,26.7),(-1.7,25.7),(-2.2,25.4),(-3.8,25.4),(-3.4,25.1),(-2.9,25.1),(-1.3,25.1),(-0.75,24.85),(-14.7,24.9),(-14.4,24.7),(-14,24.5),(-13,24.9),(-12.2,24.8),(-11.8,24.4),(-17.4,24.5),(-16.8,24.1),(-14.7,24.1),(-13.4,24),(-13.8,23.9),(-13.2,23.7),(-15.2,23.7),(-17.3,23.8),(-17.1,23.7),(-9.9,24.8),(-9.2,24.7),(-7.4,24.5),(-8,24.1),(-6.5,24.9),(-5.1,24.9),(-6,24.3),(-5.8,24.1),(-6.3,23.9),(-5.4,23.9),(-4.4,24),(-4,24.7),(-4.8,24.6),(-4,24.3),(-2.8,24.3),(-2.65,24.5),(-1,24.6),(-0.2,24.7),(0,24.4),(-0.3,24.2),(0.1,24),(-1.5,23.5),(0.2,23.5),(-3.6,23.3),(-2.4,23),(-5.4,23.5),(-7.7,23.6),(-9.35,23.7),(-8.7,23.5),(-11.6,23.6),(-12.1,23.5),(-13,23.25),(-10.5,23.1),(-8.3,23.2),(-7.8,23.1),(-8.4,22.7),(-5.2,22.9),(-5.7,22.7),(-8.1,22.4),(-7.9,22.2),(-6.7,22.4),(-2.7,22.4),(-5.3,21.7),(-11.5,21.7),(-11.4,21.5),(-13.7,22.2),(-15,22.5),(-16.3,21.7),(-16.7,21.7),(-22.1,24.1),(-21.5,24.1),(-21.5,23.7),(-20.7,23.7),(-19.6,23.2),(-19.1,23.2),(-18.1,23.3),(-16.6,23.2),(-15.5,23.1),(-17.3,23),(-18.2,22.9),(-15.3,22.9),(-15.8,22.8),(-16.4,22.7),(-17.7,22.55),(-19.2,22.6),(-18.6,22.6),(-22.5,22.9),(-21.6,23),(-20.8,22.9),(-22.5,22.7),(-21.4,22.6),(-21.9,22.85),(-20.4,22.35),(-19.6,22.3),(-17.6,22.25),(-18.3,22.15),(-18.9,21.95),(-18.4,21.7),(-17.8,21.7),(-22.1,22.1),(-23,21.6),(-22.15,21.7),(-21.5,21.8),(-20.9,21.85),(-20.1,21.85),(-20.6,21.65),(-19.8,21.6),(-21.7,21.65),(-22.5,21.25),(-21.9,21.2),(-20.2,21.1),(-24,21.1),(-23.7,21),(-22,20.7),(-22.8,20.6),(-23,20.4),(-22.3,20.3),(-23.5,20.3),(-23.7,20.1),(-21.9,20),(-22.8,20.15),(-22.4,20),(-23.3,19.7),(-22.3,19.7),(-22.1,19.45),(-19.8,20.2),(-19.7,19.6),(-23.9,19.3),(-23.4,19.2),(-24,18.7),(-22.1,18.8),(-24,18.45),(-21.9,18.6),(-22.7,18.4),(-23.8,18.05),(-24.1,17.7),(-11,17.55),(-21.8,17.05),(-22.1,16.7),(-22.3,16.45),(-24.1,16.5),(-24.1,16.15),(-24,16.05),(-24,15.8),(-22.1,16.05),(-18.85,16.05),(-17.6,15.65),(-17.1,15.65),(-17.8,15.45),(-22.5,15.5),(-23.2,15.25),(-18.3,15.25),(-17.5,15.15),(-15.2,15.15),(-13.65,15.25),(-12.6,15.05),(-13.2,14.85),(-14.5,14.85),(-18.1,14.85),(-24,14.95),(-24.1,14.85),(-22.8,14.85),(-21.4,14.65),(-20.35,14.55),(-19.2,14.65),(-18.8,14.55),(-17.5,14.65),(-16.3,14.55),(-15.55,14.65),(-14.7,14.65),(-13.5,14.65),(-13.9,14.45),(-18.7,14.35),(-12.9,14.35),(-24,14.55),(-23.3,14.55),(-23.3,14.25),(-24.2,14.15),(-21.9,14.15),(-11.6,14.25),(-17.5,14.15),(-17.8,14),(-18.1,13.85),(-14.9,14.05),(-23.6,13.45),(-19.7,13.35),(-20.9,12.95),(-16,13.1),(-14.2,12.9),(-12.1,13.15),(-10,12.8),(-9.5,12.8),(-16.9,11.4),(-11.3,15.8),(-10.6,15.9),(-10.8,15.5),(-10.6,15.35),(-10.2,14.85),(-10.2,14.55),(-9.8,16.5),(-9.2,16.5),(-9.7,16.4),(-9.5,16.2),(-9.7,16),(-9.4,15.9),(-9.7,15.75),(-9.1,15.8),(-9.6,15.6),(-9.3,15.5),(-9.7,15.4),(-9.2,15.35),(-9.6,15.2),(-9.2,15.15),(-9.8,15.05),(-9.3,15),(-9.7,14.9),(-9.15,14.9),(-9.9,14.8),(-9.4,14.75),(-9.7,14.65),(-9.15,14.65),(-9.9,14.55),(-9.4,14.5),(-9.7,14.4),(-9.15,14.4),(-9.8,14.3),(-9.3,14.25),(-9.6,14.15),(-9.15,14.15),(-9.5,14.05),(-9.3,13.9),(-9.9,13.8),(-9.6,13.7),(-9.4,13.6),(-9.2,13.5)]

groups = [
    (2003.4, pts_2003), (2004.0, pts_2004), (2004.0, pts_2004b), (2006.2, pts_2006), (2006.6, pts_2007),
    (2006.6, pts_2007b), (2007.9, pts_2008), (2007.9, pts_2008b), (2009.0, pts_2009), (2009.0, pts_2009b),
    (2010.2, pts_2010), (2010.9, pts_2011), (2011.9, pts_2012), (2013.2, pts_2013), (2013.2, pts_2013b),
    (2013.7, pts_2014a), (2014.6, pts_2014b),
]

cmin, cmax = 2003.3, 2014.7
anchors = [(0, (125, 252, 255)), (0.237, (108, 187, 226)), (0.5, (90, 134, 198)),
           (0.763, (58, 58, 166)), (1, (14, 14, 136))]
def col(t):
    for (a, ca), (b, cb) in zip(anchors, anchors[1:]):
        if t <= b:
            f = (t - a) / (b - a)
            return "rgb(%d,%d,%d)" % tuple(round(p + (q - p) * f) for p, q in zip(ca, cb))
    return "rgb(14,14,136)"
n_steps = 19
scale = []
for i in range(n_steps):
    c = col((i + 0.5) / n_steps)
    scale += [[i / n_steps, c], [(i + 1) / n_steps, c]]

fig = go.Figure()
for val, pts in groups:
    xs, ys = zip(*pts)
    fig.add_trace(go.Scatter(x=xs, y=ys, mode="markers", showlegend=False, hoverinfo="skip",
                             marker=dict(size=11.5, opacity=0.95, line_width=0,
                                         color=[val] * len(xs), coloraxis="coloraxis")))
# helper with no visible marks: narrow bar carrying the left-hand white ticks of the legend
fig.add_trace(go.Scatter(x=[None, None], y=[None, None], mode="markers", showlegend=False,
                         marker=dict(color=[cmin, cmax], coloraxis="coloraxis2")))

W, H = 1446, 1433
L, R, T, B = 176, 6, 9, 138
plot_h = H - T - B
bar_common = dict(thicknessmode="pixels", lenmode="pixels", len=249, outlinewidth=0, borderwidth=0,
                  tickmode="array", tickvals=year_ticks, ticks="inside", ticklen=9, tickwidth=1.5,
                  tickcolor="rgba(255,255,255,0.85)", xref="container", yref="paper",
                  xanchor="left", yanchor="bottom", y=(H - B - 1170) / plot_h, ypad=13)
fig.update_layout(
    width=W, height=H, paper_bgcolor="white", plot_bgcolor="white",
    margin=dict(l=L, r=R, t=T, b=B, autoexpand=False),
    font=dict(family="Liberation Sans, Arial, sans-serif", color="black"),
    coloraxis=dict(cmin=cmin, cmax=cmax, colorscale=scale,
                   colorbar=dict(**bar_common, thickness=45, x=1229 / W, xpad=11, bgcolor="white",
                                 tickfont=dict(size=42, color="black"))),
    coloraxis2=dict(cmin=cmin, cmax=cmax, colorscale=scale,
                    colorbar=dict(**bar_common, thickness=9, x=1240 / W, xpad=0,
                                  showticklabels=False)),
    xaxis=dict(range=[-30.11, 105.8], tickmode="array", tickvals=x_ticks, ticks="outside", ticklen=8,
               tickwidth=2.5, tickcolor="black", tickfont=dict(size=42), showgrid=True, ticklabelstandoff=-9,
               gridcolor="#ebebeb", gridwidth=1.5, zeroline=False, showline=True, linecolor="black",
               linewidth=6, minor=dict(tickmode="array", tickvals=[-20, 20, 60, 100], showgrid=True,
                                       gridcolor="#f6f6f6", gridwidth=1.5, ticks=""),
               title=dict(text="Stored water (% operational volume)", font=dict(size=51.4), standoff=30)),
    yaxis=dict(range=[9.74, 47.23], tickmode="array", tickvals=y_ticks, ticks="outside", ticklen=8,
               tickwidth=2.5, tickcolor="black", tickfont=dict(size=42), showgrid=True, ticklabelstandoff=-1,
               gridcolor="#ebebeb", gridwidth=1.5, zeroline=False, showline=True, linecolor="black",
               linewidth=6, minor=dict(tickmode="array", tickvals=[15, 25, 35, 45], showgrid=True,
                                       gridcolor="#f6f6f6", gridwidth=1.5, ticks=""),
               title=dict(text="Water withdraw (m<sup>3</sup>\u2009/\u2009s)", font=dict(size=51.4), standoff=35)),
    shapes=[dict(type="line", xref="paper", yref="paper", x0=0, x1=1, y0=1, y1=1,
                 line=dict(color="#7f7f7f", width=2)),
            dict(type="line", xref="paper", yref="paper", x0=1, x1=1, y0=0, y1=1,
                 line=dict(color="#8f8f8f", width=2))],
)
fig.write_html("out.html", config={"displayModeBar": False}, post_script="document.body.style.margin='0';")
